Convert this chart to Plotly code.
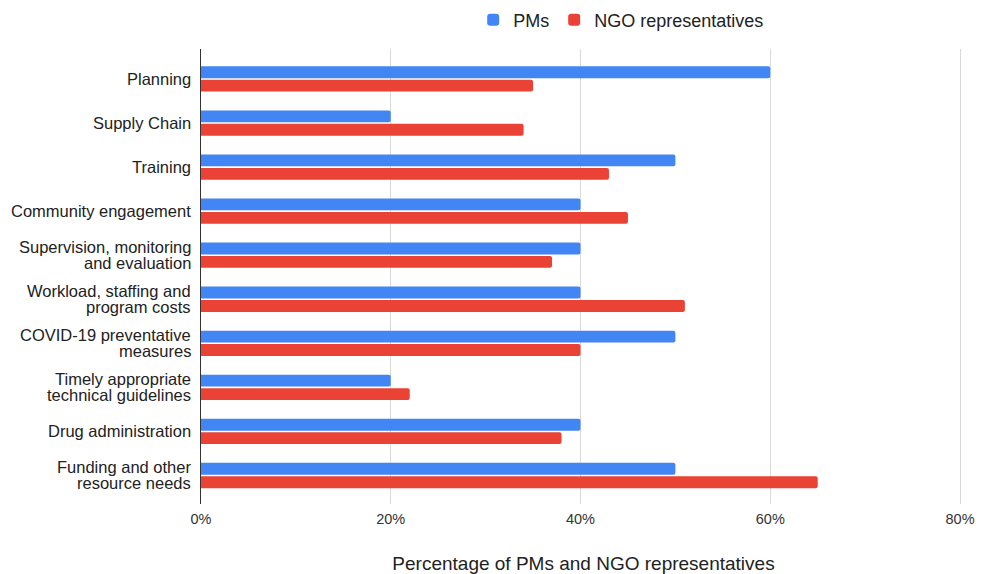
import plotly.graph_objects as go

# Barrier categories (top to bottom) and share of respondents citing each
categories = [
    "Planning",
    "Supply Chain",
    "Training",
    "Community engagement",
    "Supervision, monitoring<br>and evaluation",
    "Workload, staffing and<br>program costs",
    "COVID-19 preventative<br>measures",
    "Timely appropriate<br>technical guidelines",
    "Drug administration",
    "Funding and other<br>resource needs",
]
pms = [0.60, 0.20, 0.50, 0.40, 0.40, 0.40, 0.50, 0.20, 0.40, 0.50]
ngo = [0.35, 0.34, 0.43, 0.45, 0.37, 0.51, 0.40, 0.22, 0.38, 0.65]
x_ticks = [0, 0.2, 0.4, 0.6, 0.8]
x_tick_labels = ["0%", "20%", "40%", "60%", "80%"]

BLUE = "#4285F4"
RED = "#EA4335"
FONT = "Liberation Sans, Arial, sans-serif"

fig = go.Figure()
fig.add_trace(go.Bar(name="PMs", y=categories, x=pms, orientation="h",
                     marker=dict(color=BLUE, line=dict(width=0))))
fig.add_trace(go.Bar(name="NGO representatives", y=categories, x=ngo, orientation="h",
                     marker=dict(color=RED, line=dict(width=0))))

# Category labels drawn line by line for a compact line height
annotations = []
for cat in categories:
    lines = cat.split("<br>")
    n = len(lines)
    for i, line in enumerate(lines):
        shift = ((n - 1) / 2 - i) * 16
        annotations.append(dict(
            text=line, xref="paper", x=0, xanchor="right", xshift=-8,
            yref="y", y=cat, yanchor="middle", yshift=shift,
            showarrow=False, font=dict(family=FONT, size=16.5, color="#222222"),
        ))

fig.update_layout(
    width=986, height=574,
    margin=dict(l=201, r=20, t=49, b=70),
    paper_bgcolor="white", plot_bgcolor="white",
    barmode="group", bargap=0.39, bargroupgap=0.12,
    barcornerradius=2,
    font=dict(family=FONT, color="#222222"),
    legend=dict(orientation="h", xref="container", yref="container",
                x=0.630, xanchor="center", y=1 - 20 / 574, yanchor="middle",
                font=dict(family=FONT, size=18, color="#222222"),
                traceorder="normal"),
    annotations=annotations,
    showlegend=True,
)
fig.update_xaxes(
    range=[0, 0.8063], tickvals=x_ticks, ticktext=x_tick_labels,
    showgrid=True, gridcolor="#d9d9d9", gridwidth=1, zeroline=False,
    ticks="", ticklabelstandoff=4,
    tickfont=dict(family=FONT, size=14.5, color="#333333"),
    title=dict(text="Percentage of PMs and NGO representatives",
               font=dict(family=FONT, size=19, color="#222222"), standoff=35),
    automargin=False,
)
fig.update_yaxes(
    categoryorder="array", categoryarray=categories,
    range=[9.647, -0.68], showticklabels=False, showgrid=False,
    showline=True, linecolor="#333333", linewidth=1, zeroline=False,
    automargin=False,
)

fig.write_html("out.html")
